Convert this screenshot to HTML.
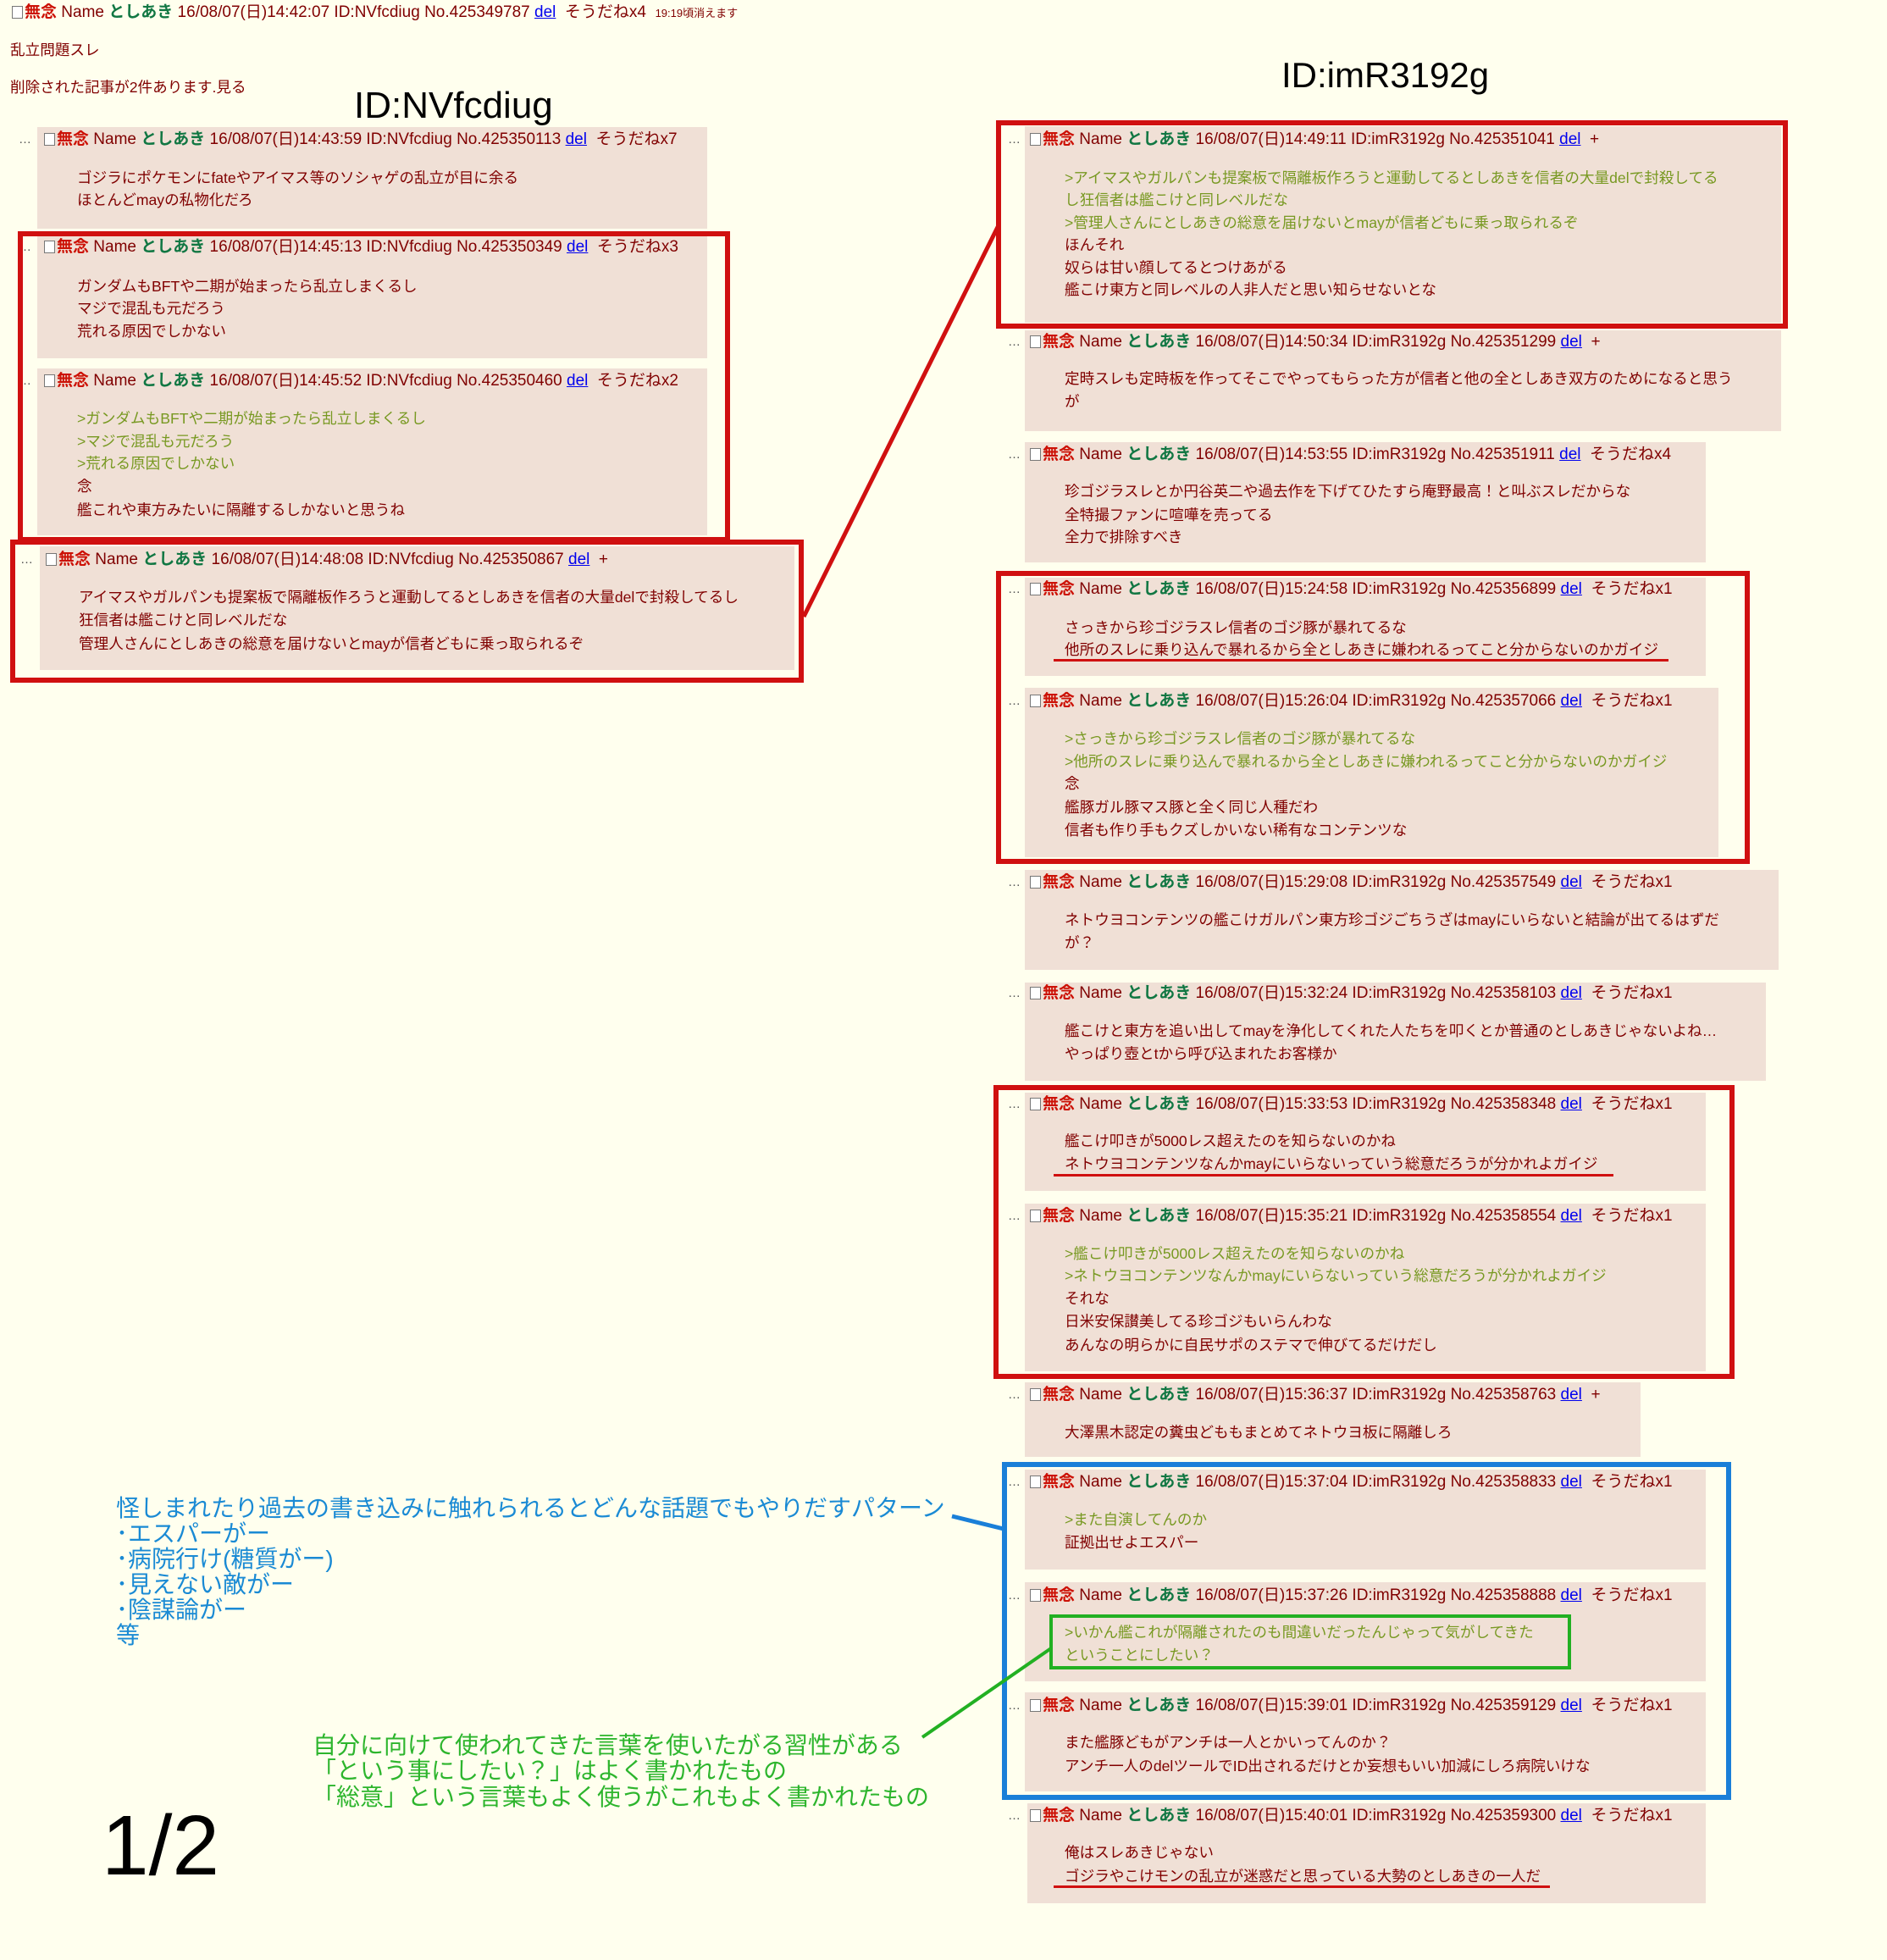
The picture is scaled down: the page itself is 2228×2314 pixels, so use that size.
<!DOCTYPE html>
<html><head><meta charset="utf-8"><style>
body{margin:0;width:2228px;height:2314px;background:#ffffee;position:relative;overflow:hidden;font-family:"Liberation Sans","Noto Sans CJK JP",sans-serif;color:#800000;}
div{position:absolute;white-space:nowrap;}
.bg{background:#f0e0d6;}
.t{font-size:17.6px;line-height:24px;}
.h{font-size:19px;}
.g{color:#789922;}
.m{color:#cc1105;font-weight:bold;}
.n{color:#117743;font-weight:bold;}
.d{color:#0000ee;text-decoration:underline;}
.cb{display:inline-block;width:11px;height:13px;border:1px solid #777;background:#fff;vertical-align:-2px;margin-right:2px;}
.dots{font-size:15px;color:#555;}
.rb{border:6px solid #d01010;box-sizing:border-box;}
.ul{height:3px;background:#d01010;}
.title{font-size:44px;color:#000;line-height:50px;}
.bl{color:#1a8ad4;font-size:28px;line-height:30px;}
.gr{color:#2db52d;font-size:28px;line-height:30px;}
</style></head><body>

<div class="t h" style="left:14px;top:3px"><span class="cb"></span><b class="m">無念</b> Name <b class="n">としあき</b> 16/08/07(日)14:42:07 ID:NVfcdiug No.425349787 <span class="d">del</span>&nbsp;&nbsp;そうだねx4&nbsp;&nbsp;<span style="font-size:13px">19:19頃消えます</span></div>
<div class="t" style="left:12px;top:47px">乱立問題スレ</div>
<div class="t" style="left:12px;top:91px">削除された記事が2件あります.見る</div>
<div class="title" style="left:418px;top:100px">ID:NVfcdiug</div>
<div class="title" style="left:1513px;top:64px;font-size:42px">ID:imR3192g</div>

<div class="bg" style="left:44px;top:150px;width:791px;height:120px"></div>
<div class="t dots" style="left:22px;top:153px">…</div>
<div class="t h" style="left:52px;top:153px"><span class="cb"></span><b class="m">無念</b> Name <b class="n">としあき</b> 16/08/07(日)14:43:59 ID:NVfcdiug No.425350113 <span class="d">del</span>&nbsp;&nbsp;そうだねx7</div>
<div class="t" style="left:91px;top:198px">ゴジラにポケモンにfateやアイマス等のソシャゲの乱立が目に余る</div>
<div class="t" style="left:91px;top:224px">ほとんどmayの私物化だろ</div>

<div class="bg" style="left:44px;top:277px;width:791px;height:146px"></div>
<div class="t dots" style="left:22px;top:280px">…</div>
<div class="t h" style="left:52px;top:280px"><span class="cb"></span><b class="m">無念</b> Name <b class="n">としあき</b> 16/08/07(日)14:45:13 ID:NVfcdiug No.425350349 <span class="d">del</span>&nbsp;&nbsp;そうだねx3</div>
<div class="t" style="left:91px;top:326px">ガンダムもBFTや二期が始まったら乱立しまくるし</div>
<div class="t" style="left:91px;top:352px">マジで混乱も元だろう</div>
<div class="t" style="left:91px;top:379px">荒れる原因でしかない</div>

<div class="bg" style="left:44px;top:435px;width:791px;height:197px"></div>
<div class="t dots" style="left:22px;top:438px">…</div>
<div class="t h" style="left:52px;top:438px"><span class="cb"></span><b class="m">無念</b> Name <b class="n">としあき</b> 16/08/07(日)14:45:52 ID:NVfcdiug No.425350460 <span class="d">del</span>&nbsp;&nbsp;そうだねx2</div>
<div class="t g" style="left:91px;top:482px">&gt;ガンダムもBFTや二期が始まったら乱立しまくるし</div>
<div class="t g" style="left:91px;top:509px">&gt;マジで混乱も元だろう</div>
<div class="t g" style="left:91px;top:535px">&gt;荒れる原因でしかない</div>
<div class="t" style="left:91px;top:562px">念</div>
<div class="t" style="left:91px;top:590px">艦これや東方みたいに隔離するしかないと思うね</div>

<div class="bg" style="left:47px;top:645px;width:891px;height:146px"></div>
<div class="t dots" style="left:24px;top:649px">…</div>
<div class="t h" style="left:54px;top:649px"><span class="cb"></span><b class="m">無念</b> Name <b class="n">としあき</b> 16/08/07(日)14:48:08 ID:NVfcdiug No.425350867 <span class="d">del</span>&nbsp;&nbsp;+</div>
<div class="t" style="left:93px;top:693px">アイマスやガルパンも提案板で隔離板作ろうと運動してるとしあきを信者の大量delで封殺してるし</div>
<div class="t" style="left:93px;top:720px">狂信者は艦こけと同レベルだな</div>
<div class="t" style="left:93px;top:748px">管理人さんにとしあきの総意を届けないとmayが信者どもに乗っ取られるぞ</div>

<div class="rb" style="left:21px;top:273px;width:841px;height:367px"></div>
<div class="rb" style="left:12px;top:637px;width:937px;height:169px"></div>

<div class="bg" style="left:1210px;top:149px;width:893px;height:232px"></div>
<div class="t dots" style="left:1190px;top:153px">…</div>
<div class="t h" style="left:1216px;top:153px"><span class="cb"></span><b class="m">無念</b> Name <b class="n">としあき</b> 16/08/07(日)14:49:11 ID:imR3192g No.425351041 <span class="d">del</span>&nbsp;&nbsp;+</div>
<div class="t g" style="left:1257px;top:198px">&gt;アイマスやガルパンも提案板で隔離板作ろうと運動してるとしあきを信者の大量delで封殺してる</div>
<div class="t g" style="left:1257px;top:224px">し狂信者は艦こけと同レベルだな</div>
<div class="t g" style="left:1257px;top:251px">&gt;管理人さんにとしあきの総意を届けないとmayが信者どもに乗っ取られるぞ</div>
<div class="t" style="left:1257px;top:277px">ほんそれ</div>
<div class="t" style="left:1257px;top:304px">奴らは甘い顔してるとつけあがる</div>
<div class="t" style="left:1257px;top:330px">艦こけ東方と同レベルの人非人だと思い知らせないとな</div>

<div class="bg" style="left:1210px;top:390px;width:893px;height:119px"></div>
<div class="t dots" style="left:1190px;top:392px">…</div>
<div class="t h" style="left:1216px;top:392px"><span class="cb"></span><b class="m">無念</b> Name <b class="n">としあき</b> 16/08/07(日)14:50:34 ID:imR3192g No.425351299 <span class="d">del</span>&nbsp;&nbsp;+</div>
<div class="t" style="left:1257px;top:435px">定時スレも定時板を作ってそこでやってもらった方が信者と他の全としあき双方のためになると思う</div>
<div class="t" style="left:1257px;top:462px">が</div>

<div class="bg" style="left:1210px;top:522px;width:804px;height:142px"></div>
<div class="t dots" style="left:1190px;top:525px">…</div>
<div class="t h" style="left:1216px;top:525px"><span class="cb"></span><b class="m">無念</b> Name <b class="n">としあき</b> 16/08/07(日)14:53:55 ID:imR3192g No.425351911 <span class="d">del</span>&nbsp;&nbsp;そうだねx4</div>
<div class="t" style="left:1257px;top:568px">珍ゴジラスレとか円谷英二や過去作を下げてひたすら庵野最高！と叫ぶスレだからな</div>
<div class="t" style="left:1257px;top:596px">全特撮ファンに喧嘩を売ってる</div>
<div class="t" style="left:1257px;top:622px">全力で排除すべき</div>

<div class="bg" style="left:1210px;top:682px;width:804px;height:116px"></div>
<div class="t dots" style="left:1190px;top:684px">…</div>
<div class="t h" style="left:1216px;top:684px"><span class="cb"></span><b class="m">無念</b> Name <b class="n">としあき</b> 16/08/07(日)15:24:58 ID:imR3192g No.425356899 <span class="d">del</span>&nbsp;&nbsp;そうだねx1</div>
<div class="t" style="left:1257px;top:729px">さっきから珍ゴジラスレ信者のゴジ豚が暴れてるな</div>
<div class="t" style="left:1257px;top:755px">他所のスレに乗り込んで暴れるから全としあきに嫌われるってこと分からないのかガイジ</div>
<div class="ul" style="left:1244px;top:778px;width:726px"></div>

<div class="bg" style="left:1210px;top:812px;width:819px;height:200px"></div>
<div class="t dots" style="left:1190px;top:816px">…</div>
<div class="t h" style="left:1216px;top:816px"><span class="cb"></span><b class="m">無念</b> Name <b class="n">としあき</b> 16/08/07(日)15:26:04 ID:imR3192g No.425357066 <span class="d">del</span>&nbsp;&nbsp;そうだねx1</div>
<div class="t g" style="left:1257px;top:860px">&gt;さっきから珍ゴジラスレ信者のゴジ豚が暴れてるな</div>
<div class="t g" style="left:1257px;top:887px">&gt;他所のスレに乗り込んで暴れるから全としあきに嫌われるってこと分からないのかガイジ</div>
<div class="t" style="left:1257px;top:913px">念</div>
<div class="t" style="left:1257px;top:941px">艦豚ガル豚マス豚と全く同じ人種だわ</div>
<div class="t" style="left:1257px;top:968px">信者も作り手もクズしかいない稀有なコンテンツな</div>

<div class="bg" style="left:1210px;top:1027px;width:890px;height:118px"></div>
<div class="t dots" style="left:1190px;top:1030px">…</div>
<div class="t h" style="left:1216px;top:1030px"><span class="cb"></span><b class="m">無念</b> Name <b class="n">としあき</b> 16/08/07(日)15:29:08 ID:imR3192g No.425357549 <span class="d">del</span>&nbsp;&nbsp;そうだねx1</div>
<div class="t" style="left:1257px;top:1074px">ネトウヨコンテンツの艦こけガルパン東方珍ゴジごちうざはmayにいらないと結論が出てるはずだ</div>
<div class="t" style="left:1257px;top:1101px">が？</div>

<div class="bg" style="left:1210px;top:1160px;width:875px;height:116px"></div>
<div class="t dots" style="left:1190px;top:1161px">…</div>
<div class="t h" style="left:1216px;top:1161px"><span class="cb"></span><b class="m">無念</b> Name <b class="n">としあき</b> 16/08/07(日)15:32:24 ID:imR3192g No.425358103 <span class="d">del</span>&nbsp;&nbsp;そうだねx1</div>
<div class="t" style="left:1257px;top:1205px">艦こけと東方を追い出してmayを浄化してくれた人たちを叩くとか普通のとしあきじゃないよね…</div>
<div class="t" style="left:1257px;top:1232px">やっぱり壺とtから呼び込まれたお客様か</div>

<div class="bg" style="left:1210px;top:1290px;width:804px;height:116px"></div>
<div class="t dots" style="left:1190px;top:1292px">…</div>
<div class="t h" style="left:1216px;top:1292px"><span class="cb"></span><b class="m">無念</b> Name <b class="n">としあき</b> 16/08/07(日)15:33:53 ID:imR3192g No.425358348 <span class="d">del</span>&nbsp;&nbsp;そうだねx1</div>
<div class="t" style="left:1257px;top:1335px">艦こけ叩きが5000レス超えたのを知らないのかね</div>
<div class="t" style="left:1257px;top:1362px">ネトウヨコンテンツなんかmayにいらないっていう総意だろうが分かれよガイジ</div>
<div class="ul" style="left:1244px;top:1386px;width:661px"></div>

<div class="bg" style="left:1210px;top:1421px;width:804px;height:198px"></div>
<div class="t dots" style="left:1190px;top:1424px">…</div>
<div class="t h" style="left:1216px;top:1424px"><span class="cb"></span><b class="m">無念</b> Name <b class="n">としあき</b> 16/08/07(日)15:35:21 ID:imR3192g No.425358554 <span class="d">del</span>&nbsp;&nbsp;そうだねx1</div>
<div class="t g" style="left:1257px;top:1468px">&gt;艦こけ叩きが5000レス超えたのを知らないのかね</div>
<div class="t g" style="left:1257px;top:1494px">&gt;ネトウヨコンテンツなんかmayにいらないっていう総意だろうが分かれよガイジ</div>
<div class="t" style="left:1257px;top:1521px">それな</div>
<div class="t" style="left:1257px;top:1548px">日米安保讃美してる珍ゴジもいらんわな</div>
<div class="t" style="left:1257px;top:1576px">あんなの明らかに自民サポのステマで伸びてるだけだし</div>

<div class="bg" style="left:1210px;top:1632px;width:727px;height:88px"></div>
<div class="t dots" style="left:1190px;top:1635px">…</div>
<div class="t h" style="left:1216px;top:1635px"><span class="cb"></span><b class="m">無念</b> Name <b class="n">としあき</b> 16/08/07(日)15:36:37 ID:imR3192g No.425358763 <span class="d">del</span>&nbsp;&nbsp;+</div>
<div class="t" style="left:1257px;top:1679px">大澤黒木認定の糞虫どももまとめてネトウヨ板に隔離しろ</div>

<div class="bg" style="left:1210px;top:1735px;width:804px;height:118px"></div>
<div class="t dots" style="left:1190px;top:1738px">…</div>
<div class="t h" style="left:1216px;top:1738px"><span class="cb"></span><b class="m">無念</b> Name <b class="n">としあき</b> 16/08/07(日)15:37:04 ID:imR3192g No.425358833 <span class="d">del</span>&nbsp;&nbsp;そうだねx1</div>
<div class="t g" style="left:1257px;top:1782px">&gt;また自演してんのか</div>
<div class="t" style="left:1257px;top:1809px">証拠出せよエスパー</div>

<div class="bg" style="left:1210px;top:1868px;width:804px;height:117px"></div>
<div class="t dots" style="left:1190px;top:1872px">…</div>
<div class="t h" style="left:1216px;top:1872px"><span class="cb"></span><b class="m">無念</b> Name <b class="n">としあき</b> 16/08/07(日)15:37:26 ID:imR3192g No.425358888 <span class="d">del</span>&nbsp;&nbsp;そうだねx1</div>
<div class="t g" style="left:1257px;top:1915px">&gt;いかん艦これが隔離されたのも間違いだったんじゃって気がしてきた</div>
<div class="t g" style="left:1257px;top:1942px">ということにしたい？</div>
<div style="left:1239px;top:1906px;width:616px;height:65px;border:4px solid #22b022;box-sizing:border-box"></div>

<div class="bg" style="left:1210px;top:1998px;width:804px;height:117px"></div>
<div class="t dots" style="left:1190px;top:2002px">…</div>
<div class="t h" style="left:1216px;top:2002px"><span class="cb"></span><b class="m">無念</b> Name <b class="n">としあき</b> 16/08/07(日)15:39:01 ID:imR3192g No.425359129 <span class="d">del</span>&nbsp;&nbsp;そうだねx1</div>
<div class="t" style="left:1257px;top:2045px">また艦豚どもがアンチは一人とかいってんのか？</div>
<div class="t" style="left:1257px;top:2073px">アンチ一人のdelツールでID出されるだけとか妄想もいい加減にしろ病院いけな</div>

<div class="bg" style="left:1213px;top:2129px;width:801px;height:118px"></div>
<div class="t dots" style="left:1190px;top:2132px">…</div>
<div class="t h" style="left:1216px;top:2132px"><span class="cb"></span><b class="m">無念</b> Name <b class="n">としあき</b> 16/08/07(日)15:40:01 ID:imR3192g No.425359300 <span class="d">del</span>&nbsp;&nbsp;そうだねx1</div>
<div class="t" style="left:1257px;top:2175px">俺はスレあきじゃない</div>
<div class="t" style="left:1257px;top:2203px">ゴジラやこけモンの乱立が迷惑だと思っている大勢のとしあきの一人だ</div>
<div class="ul" style="left:1244px;top:2226px;width:586px"></div>

<div class="rb" style="left:1176px;top:142px;width:935px;height:246px"></div>
<div class="rb" style="left:1176px;top:674px;width:890px;height:346px"></div>
<div class="rb" style="left:1173px;top:1281px;width:875px;height:347px"></div>
<div class="rb" style="left:1183px;top:1726px;width:861px;height:399px;border-color:#1a7fd8"></div>

<svg width="2228" height="2314" style="position:absolute;left:0;top:0">
<line x1="949" y1="728" x2="1179" y2="266" stroke="#d01010" stroke-width="5"/>
<line x1="1124" y1="1790" x2="1185" y2="1805" stroke="#1a7fd8" stroke-width="5"/>
<line x1="1089" y1="2051" x2="1241" y2="1946" stroke="#22b022" stroke-width="4"/>
</svg>

<div class="bl" style="left:137px;top:1766px">怪しまれたり過去の書き込みに触れられるとどんな話題でもやりだすパターン</div>
<div class="bl" style="left:137px;top:1796px">･エスパーがー</div>
<div class="bl" style="left:137px;top:1826px">･病院行け(糖質がー)</div>
<div class="bl" style="left:137px;top:1856px">･見えない敵がー</div>
<div class="bl" style="left:137px;top:1886px">･陰謀論がー</div>
<div class="bl" style="left:137px;top:1916px">等</div>

<div class="gr" style="left:369px;top:2046px">自分に向けて使われてきた言葉を使いたがる習性がある</div>
<div class="gr" style="left:369px;top:2076px">「という事にしたい？」はよく書かれたもの</div>
<div class="gr" style="left:369px;top:2107px">「総意」という言葉もよく使うがこれもよく書かれたもの</div>

<div style="left:120px;top:2124px;font-size:100px;line-height:110px;color:#000">1/2</div>
</body></html>
